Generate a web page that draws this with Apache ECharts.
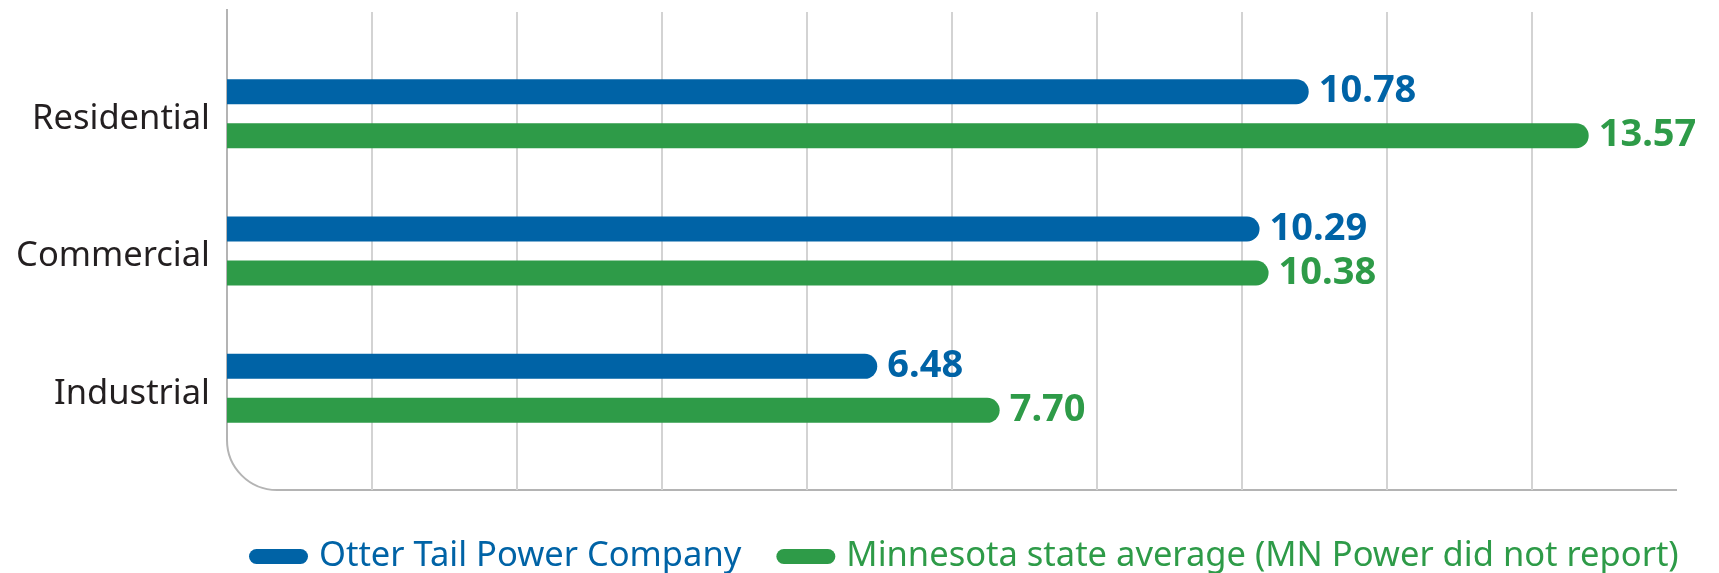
<!DOCTYPE html>
<html>
<head>
<meta charset="utf-8">
<title>Electricity rates</title>
<script src="https://cdn.jsdelivr.net/npm/echarts@6/dist/echarts.min.js"></script>
<style>
  html, body { margin: 0; padding: 0; background: #fff; }
  #rates_bar { width: 1719px; height: 573px; }
</style>
</head>
<body>
<div id="rates_bar"></div>
<script>
// Chart data
var categories = ['Residential', 'Commercial', 'Industrial'];
var otterTailRates = [10.78, 10.29, 6.48];
var stateAverageRates = [13.57, 10.38, 7.70];
var seriesNames = ['Otter Tail Power Company', 'Minnesota state average (MN Power did not report)'];

// Value axis ticks (grid lines only, no labels)
var axisMax = 14.45;
var axisStep = 1.445;

var EchartsRatesBar = function() {
  var _ratesBarExample = function() {
      if (typeof echarts == 'undefined') {
          console.warn('Warning - echarts.min.js is not loaded.');
          return;
      }

      var rates_bar_element = document.getElementById('rates_bar');
      if (!rates_bar_element) {
          return;
      }
      var rates_bar = echarts.init(rates_bar_element);

      var blue = '#0063a6';
      var green = '#2e9b48';

      // Layout of the frame
      var left = 227, right = 42, frameTop = 9, frameBottom = 490;
      var barsTop = 45, barsHeight = 412;
      var corner = 50;
      var frameStyle = {
          fill: null,
          stroke: '#b4b4b4',
          lineWidth: 2
      };

      var valueLabel = function(color) {
          return {
              show: true,
              position: 'right',
              distance: 10,
              color: color,
              fontFamily: 'Noto Sans',
              fontWeight: 'bold',
              fontSize: 38,
              formatter: function(p) {
                  return p.value.toFixed(2);
              }
          };
      };

      rates_bar.setOption({
          animation: false,

          // Define colors
          color: [blue, green],

          // Global text styles
          textStyle: {
              fontFamily: 'Noto Sans, sans-serif'
          },

          // Two grids: one for the bars, one for the frame + grid lines
          grid: [
              {
                  left: left,
                  right: right,
                  top: barsTop,
                  height: barsHeight
              },
              {
                  left: left,
                  right: right,
                  top: frameTop + 3,
                  bottom: 573 - frameBottom
              }
          ],

          // Add legend
          legend: {
              left: 244,
              top: 534,
              itemWidth: 59,
              itemHeight: 15,
              itemGap: 35,
              icon: 'path://M7.5,0 H51.5 A7.5,7.5 0 0 1 51.5,15 H7.5 A7.5,7.5 0 0 1 7.5,0 Z',
              textStyle: {
                  fontSize: 34.5,
                  fontFamily: 'Noto Sans',
                  padding: [0, 0, 0, 6]
              },
              data: [
                  { name: seriesNames[0], textStyle: { color: blue } },
                  { name: seriesNames[1], textStyle: { color: green } }
              ]
          },

          // Horizontal axes
          xAxis: [
              {
                  type: 'value',
                  gridIndex: 0,
                  min: 0,
                  max: axisMax,
                  interval: axisStep,
                  axisLine: { show: false },
                  axisTick: { show: false },
                  axisLabel: { show: false },
                  splitLine: { show: false }
              },
              {
                  type: 'value',
                  gridIndex: 1,
                  min: 0,
                  max: axisMax,
                  interval: axisStep,
                  axisLine: { show: false },
                  axisTick: { show: false },
                  axisLabel: { show: false },
                  splitLine: {
                      show: true,
                      showMinLine: false,
                      showMaxLine: false,
                      lineStyle: {
                          color: '#d3d3d3',
                          width: 2
                      }
                  }
              }
          ],

          // Vertical axes
          yAxis: [
              {
                  type: 'category',
                  gridIndex: 0,
                  inverse: true,
                  data: categories,
                  axisLine: { show: false },
                  axisTick: { show: false },
                  axisLabel: {
                      color: '#231f20',
                      fontSize: 34.5,
                      fontFamily: 'Noto Sans',
                      margin: 17,
                      verticalAlign: 'top',
                      lineHeight: 11
                  }
              },
              {
                  type: 'category',
                  gridIndex: 1,
                  data: categories,
                  show: false
              }
          ],

          // Frame: left axis with rounded corner into the bottom axis
          graphic: [
              {
                  type: 'line',
                  silent: true,
                  shape: { x1: left, y1: frameTop, x2: left, y2: frameBottom - corner },
                  style: frameStyle
              },
              {
                  type: 'arc',
                  silent: true,
                  shape: {
                      cx: left + corner,
                      cy: frameBottom - corner,
                      r: corner,
                      startAngle: Math.PI / 2,
                      endAngle: Math.PI,
                      clockwise: true
                  },
                  style: frameStyle
              },
              {
                  type: 'line',
                  silent: true,
                  shape: { x1: left + corner, y1: frameBottom, x2: 1719 - right, y2: frameBottom },
                  style: frameStyle
              }
          ],

          // Add series
          series: [
              {
                  name: seriesNames[0],
                  type: 'bar',
                  xAxisIndex: 0,
                  yAxisIndex: 0,
                  data: otterTailRates,
                  barWidth: 25,
                  barGap: '76%',
                  itemStyle: {
                      color: blue,
                      borderRadius: [0, 13, 13, 0]
                  },
                  label: valueLabel(blue)
              },
              {
                  name: seriesNames[1],
                  type: 'bar',
                  xAxisIndex: 0,
                  yAxisIndex: 0,
                  data: stateAverageRates,
                  barWidth: 25,
                  barGap: '76%',
                  itemStyle: {
                      color: green,
                      borderRadius: [0, 13, 13, 0]
                  },
                  label: valueLabel(green)
              }
          ]
      });
  };

  return {
      init: function() {
          _ratesBarExample();
      }
  }
}();

EchartsRatesBar.init();
</script>
</body>
</html>
